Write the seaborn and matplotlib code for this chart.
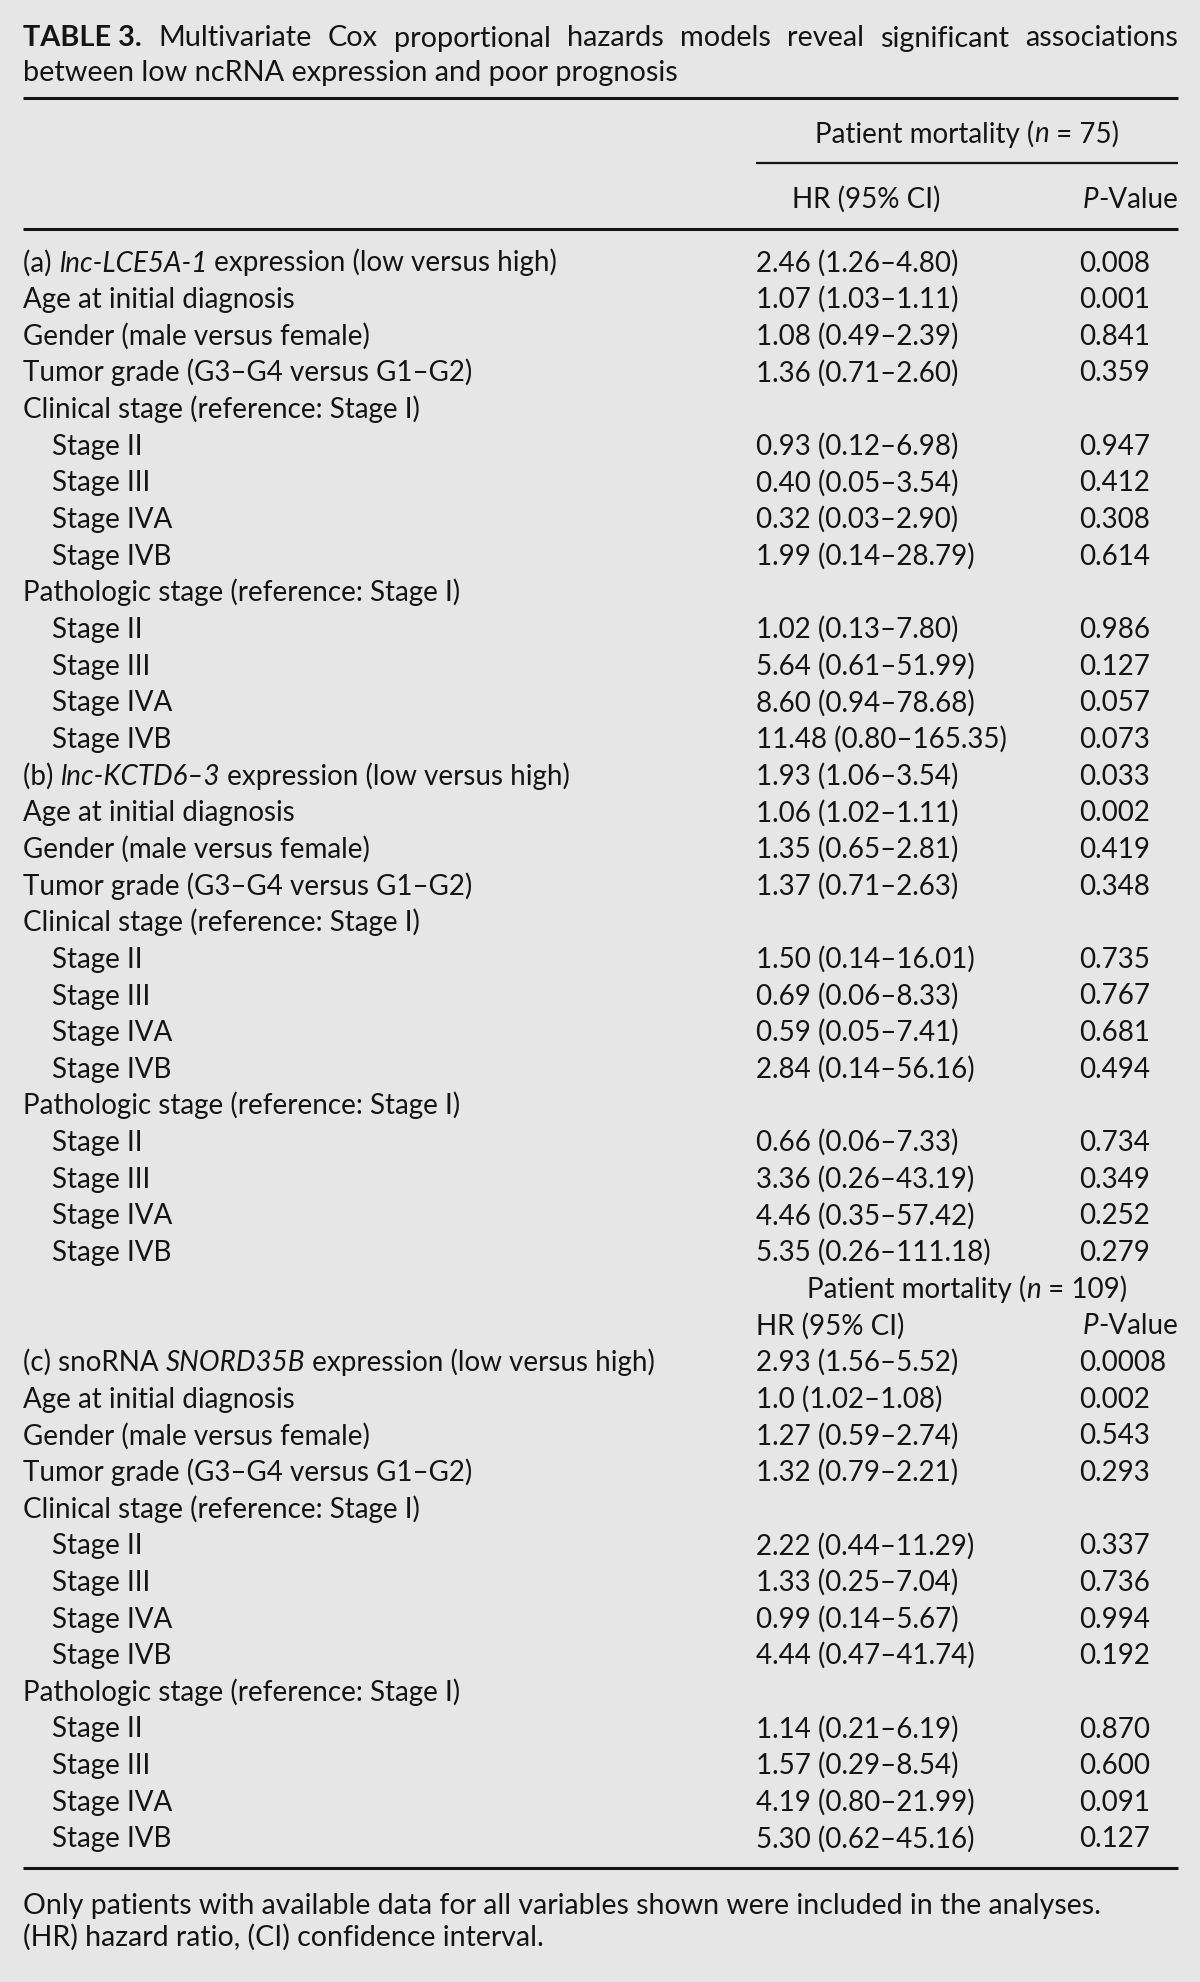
import matplotlib
matplotlib.use("Agg")
import matplotlib.pyplot as plt
import seaborn as sns

# table content
title_bold = "TABLE 3."
title_line1 = "Multivariate Cox proportional hazards models reveal significant associations"
title_line2 = "between low ncRNA expression and poor prognosis"

n_first = "75"
n_second = "109"

prefixes = ["(a) ", "(b) ", "(c) snoRNA "]
genes = ["lnc-LCE5A-1", "lnc-KCTD6\u20133", "SNORD35B"]
gene_suffix = " expression (low versus high)"

covariates = ["Age at initial diagnosis", "Gender (male versus female)",
              "Tumor grade (G3\u2013G4 versus G1\u2013G2)",
              "Clinical stage (reference: Stage I)",
              "Stage II", "Stage III", "Stage IVA", "Stage IVB",
              "Pathologic stage (reference: Stage I)",
              "Stage II", "Stage III", "Stage IVA", "Stage IVB"]
indented = [False, False, False, False, True, True, True, True,
            False, True, True, True, True]

hr_a = ["2.46 (1.26\u20134.80)", "1.07 (1.03\u20131.11)", "1.08 (0.49\u20132.39)",
        "1.36 (0.71\u20132.60)", "", "0.93 (0.12\u20136.98)", "0.40 (0.05\u20133.54)",
        "0.32 (0.03\u20132.90)", "1.99 (0.14\u201328.79)", "", "1.02 (0.13\u20137.80)",
        "5.64 (0.61\u201351.99)", "8.60 (0.94\u201378.68)", "11.48 (0.80\u2013165.35)"]
p_a = ["0.008", "0.001", "0.841", "0.359", "", "0.947", "0.412", "0.308",
       "0.614", "", "0.986", "0.127", "0.057", "0.073"]

hr_b = ["1.93 (1.06\u20133.54)", "1.06 (1.02\u20131.11)", "1.35 (0.65\u20132.81)",
        "1.37 (0.71\u20132.63)", "", "1.50 (0.14\u201316.01)", "0.69 (0.06\u20138.33)",
        "0.59 (0.05\u20137.41)", "2.84 (0.14\u201356.16)", "", "0.66 (0.06\u20137.33)",
        "3.36 (0.26\u201343.19)", "4.46 (0.35\u201357.42)", "5.35 (0.26\u2013111.18)"]
p_b = ["0.033", "0.002", "0.419", "0.348", "", "0.735", "0.767", "0.681",
       "0.494", "", "0.734", "0.349", "0.252", "0.279"]

hr_c = ["2.93 (1.56\u20135.52)", "1.0 (1.02\u20131.08)", "1.27 (0.59\u20132.74)",
        "1.32 (0.79\u20132.21)", "", "2.22 (0.44\u201311.29)", "1.33 (0.25\u20137.04)",
        "0.99 (0.14\u20135.67)", "4.44 (0.47\u201341.74)", "", "1.14 (0.21\u20136.19)",
        "1.57 (0.29\u20138.54)", "4.19 (0.80\u201321.99)", "5.30 (0.62\u201345.16)"]
p_c = ["0.0008", "0.002", "0.543", "0.293", "", "0.337", "0.736", "0.994",
       "0.192", "", "0.870", "0.600", "0.091", "0.127"]

footnotes = ["Only patients with available data for all variables shown were included in the analyses.",
             "(HR) hazard ratio, (CI) confidence interval."]

# style
sns.set_theme(style="white")
plt.rcParams["font.family"] = ["Lato", "DejaVu Sans"]
BG = "#e6e6e6"
INK = "#141414"
FS = 20

fig = plt.figure(figsize=(12, 19.82), dpi=100)
fig.patch.set_facecolor(BG)
ax = fig.add_axes([0, 0, 1, 1])
ax.set_facecolor(BG)
ax.set_xlim(0, 1200)
ax.set_ylim(1982, 0)
ax.axis("off")
fig.canvas.draw()
renderer = fig.canvas.get_renderer()

LEFT, RIGHT = 23, 1178
HR_X, P_X = 756, 1079
ROW0, PITCH = 260.5, 36.65
BASE = 11


def run_width(s, **kw):
    # measure with a bar so trailing spaces are counted
    t1 = ax.text(0, 0, s + "|", fontsize=kw.get("fontsize", FS),
                 fontweight=kw.get("fontweight", "normal"),
                 fontstyle=kw.get("fontstyle", "normal"))
    t2 = ax.text(0, 0, "|", fontsize=kw.get("fontsize", FS),
                 fontweight=kw.get("fontweight", "normal"),
                 fontstyle=kw.get("fontstyle", "normal"))
    w = t1.get_window_extent(renderer).width - t2.get_window_extent(renderer).width
    t1.remove()
    t2.remove()
    return w


def draw_runs(x, y, runs, align="left", fontsize=FS):
    widths = [run_width(s, fontsize=fontsize, **st) for s, st in runs]
    total = sum(widths)
    if align == "right":
        x = x - total
    elif align == "center":
        x = x - total / 2
    for (s, st), w in zip(runs, widths):
        ax.text(x, y, s, fontsize=fontsize, color=INK, va="baseline", ha="left", **st)
        x += w


def draw_justified(y, words, x0, x1, fontsize=FS):
    widths = [run_width(s, fontsize=fontsize, **st) for s, st in words]
    gap = (x1 - x0 - sum(widths)) / (len(words) - 1)
    x = x0
    for (s, st), w in zip(words, widths):
        ax.text(x, y, s, fontsize=fontsize, color=INK, va="baseline", ha="left", **st)
        x += w + gap


REG = {}
IT = {"fontstyle": "italic"}
BD = {"fontweight": "bold"}
TFS = 20.8

# title
words = [(title_bold, BD)] + [(w, REG) for w in title_line1.split()]
draw_justified(35.5 + BASE, words, LEFT, RIGHT, fontsize=TFS)
draw_runs(LEFT, 69.5 + BASE, [(title_line2, REG)], fontsize=TFS)

# rules
ax.hlines(97.5, LEFT, RIGHT, color=INK, lw=2.2)
ax.hlines(163, HR_X, RIGHT, color=INK, lw=1.6)
ax.hlines(229, LEFT, RIGHT, color=INK, lw=2.2)
ax.hlines(1868, LEFT, RIGHT, color=INK, lw=2.2)

# header
draw_runs(967, 131.5 + BASE, [("Patient mortality (", REG), ("n", IT), (" = " + n_first + ")", REG)], align="center")
draw_runs(866, 197 + BASE, [("HR (95% CI)", REG)], align="center")
draw_runs(RIGHT, 197 + BASE, [("P", IT), ("-Value", REG)], align="right")

blocks = [(hr_a, p_a), (hr_b, p_b), (hr_c, p_c)]
row = 0
for b, (hrs, ps) in enumerate(blocks):
    if b == 2:
        y = ROW0 + row * PITCH + BASE
        draw_runs(967, y, [("Patient mortality (", REG), ("n", IT), (" = " + n_second + ")", REG)], align="center")
        row += 1
        y = ROW0 + row * PITCH + BASE
        draw_runs(HR_X, y, [("HR (95% CI)", REG)])
        draw_runs(RIGHT, y, [("P", IT), ("-Value", REG)], align="right")
        row += 1
    labels = [None] + covariates
    indents = [False] + indented
    for i in range(len(hrs)):
        y = ROW0 + row * PITCH + BASE
        if i == 0:
            draw_runs(LEFT, y, [(prefixes[b], REG), (genes[b], IT), (gene_suffix, REG)])
        else:
            draw_runs(LEFT + (29 if indents[i] else 0), y, [(labels[i], REG)])
        if hrs[i]:
            draw_runs(HR_X, y, [(hrs[i], REG)])
            draw_runs(P_X, y, [(ps[i], REG)])
        row += 1

# footnote
FFS = 20.5
draw_runs(LEFT, 1903 + BASE, [(footnotes[0], REG)], fontsize=FFS)
draw_runs(LEFT, 1935 + BASE, [(footnotes[1], REG)], fontsize=FFS)

fig.savefig("out.png", dpi=100, facecolor=BG)
